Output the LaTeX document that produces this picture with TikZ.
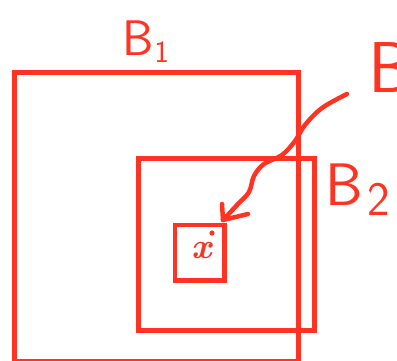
\documentclass[tikz,border=0pt]{standalone}
\usepackage{fontspec}
\begin{document}
\begin{tikzpicture}[x=1pt,y=-1pt,
  every node/.style={inner sep=0pt,outer sep=0pt},
  ink/.style={draw=penred,line width=5pt},
  box/.style={ink,rectangle},
  lbl/.style={text=penred,font=\sffamily,anchor=base west},
  pen/.style={penred,line width=4.5pt,line cap=round,line join=round}]
\definecolor{penred}{RGB}{255,51,34}
\useasboundingbox (0,0) rectangle (397,360);
\clip (0,0) rectangle (397,360);

% nested squares
\node[box,minimum width=283.5pt,minimum height=289pt] (big) at (156.25,216.5) {};
\node[box,minimum width=176.5pt,minimum height=172pt] (mid) at (226.25,244) {};
\node[box,line width=4.5pt,minimum width=49.5pt,minimum height=55.5pt] (small) at (199.75,252.75) {};

% the point and its name
\fill[penred] (212,233) circle (2.6pt);
\node[text=penred,font=\fontsize{36}{36}\selectfont\bfseries\itshape] (xname) at (202,251) {x};

% labels
\node[lbl] (lb1) at (122,55) {\fontsize{50}{50}\selectfont B\hspace{1pt}\raisebox{-7pt}{\fontsize{31}{31}\selectfont 1}};
\node[lbl] (lb2) at (325,205) {\fontsize{60}{60}\selectfont B\hspace{5pt}\raisebox{-10pt}{\fontsize{48}{48}\selectfont 2}};
\node[lbl] (lb) at (368,92) {\fontsize{72}{72}\selectfont B};

% curved pointer from B down to the point
\coordinate (p0) at (347,94);
\coordinate (p1) at (322,108);
\coordinate (p2) at (305,125);
\coordinate (p3) at (295,141);
\coordinate (p4) at (282,155);
\coordinate (p5) at (264,164);
\coordinate (p6) at (254,176);
\coordinate (p7) at (249,192);
\coordinate (p8) at (238,204);
\coordinate (tip) at (223,220);
\coordinate (barbA) at (222,204);
\coordinate (barbB) at (248,214);
\draw[pen] plot[smooth,tension=0.6] coordinates {(p0) (p1) (p2) (p3) (p4) (p5) (p6) (p7) (p8) (tip)};
\draw[pen] (barbA) -- (tip) -- (barbB);
\end{tikzpicture}
\end{document}
